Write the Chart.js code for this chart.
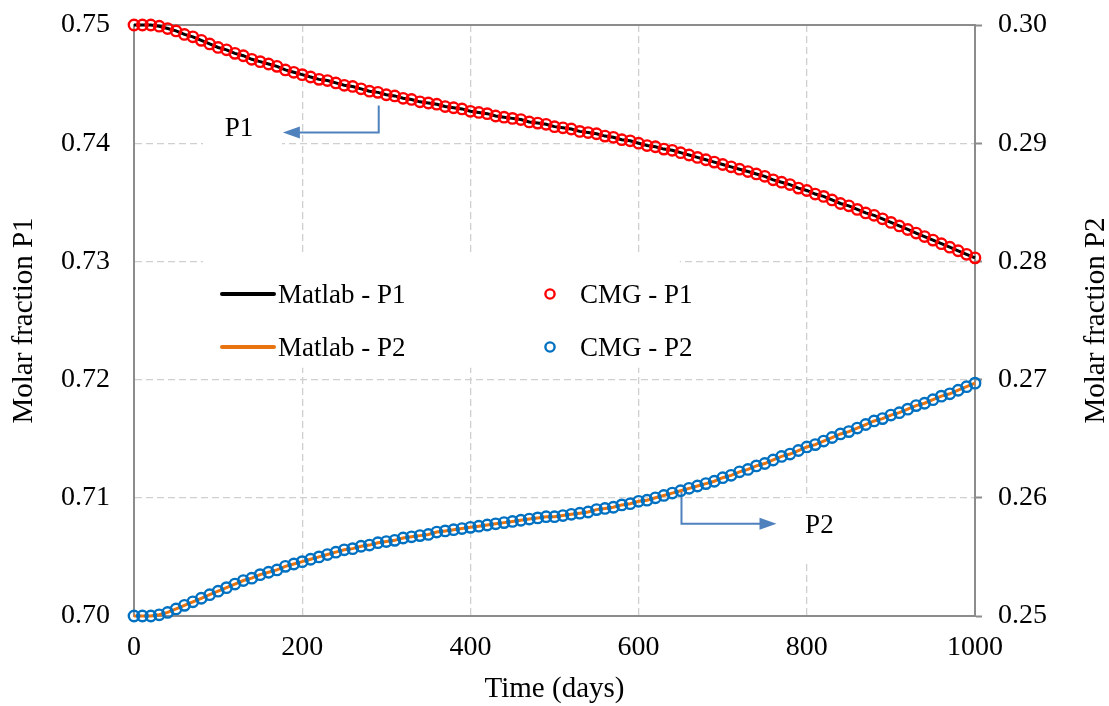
<!DOCTYPE html>
<html>
<head>
<meta charset="utf-8">
<script src="https://cdn.jsdelivr.net/npm/chart.js@4.4.1/dist/chart.umd.min.js"></script>
<style>
  html, body { margin: 0; padding: 0; background: #fff; }
</style>
</head>
<body>
<canvas id="chart" width="1109" height="706"></canvas>
<script>
// Molar fraction of P1 / P2 over time, Matlab solution vs. CMG run
const days = [
  0, 10, 20, 30, 40, 50, 60, 70, 80, 90,
  100, 110, 120, 130, 140, 150, 160, 170, 180, 190,
  200, 210, 220, 230, 240, 250, 260, 270, 280, 290,
  300, 310, 320, 330, 340, 350, 360, 370, 380, 390,
  400, 410, 420, 430, 440, 450, 460, 470, 480, 490,
  500, 510, 520, 530, 540, 550, 560, 570, 580, 590,
  600, 610, 620, 630, 640, 650, 660, 670, 680, 690,
  700, 710, 720, 730, 740, 750, 760, 770, 780, 790,
  800, 810, 820, 830, 840, 850, 860, 870, 880, 890,
  900, 910, 920, 930, 940, 950, 960, 970, 980, 990,
  1000
];

const p1 = [
  0.7500, 0.7500, 0.7500, 0.7499, 0.7497, 0.7495, 0.7492, 0.7490, 0.7487, 0.7484,
  0.7481, 0.7479, 0.7476, 0.7474, 0.7471, 0.7469, 0.7467, 0.7465, 0.7462, 0.7460,
  0.7458, 0.7456, 0.7454, 0.7453, 0.7451, 0.7449, 0.7448, 0.7446, 0.7444, 0.7443,
  0.7441, 0.7440, 0.7438, 0.7437, 0.7435, 0.7434, 0.7433, 0.7431, 0.7430, 0.7429,
  0.7427, 0.7426, 0.7425, 0.7423, 0.7422, 0.7421, 0.7420, 0.7418, 0.7417, 0.7416,
  0.7414, 0.7413, 0.7412, 0.7410, 0.7409, 0.7408, 0.7406, 0.7405, 0.7403, 0.7402,
  0.7400, 0.7398, 0.7397, 0.7395, 0.7394, 0.7392, 0.7390, 0.7388, 0.7386, 0.7384,
  0.7382, 0.7380, 0.7378, 0.7376, 0.7374, 0.7372, 0.7369, 0.7367, 0.7365, 0.7362,
  0.7360, 0.7357, 0.7355, 0.7352, 0.7349, 0.7347, 0.7344, 0.7341, 0.7339, 0.7336,
  0.7333, 0.7330, 0.7327, 0.7324, 0.7321, 0.7318, 0.7315, 0.7312, 0.7309, 0.7306,
  0.7303
];

const p2 = [
  0.2500, 0.2500, 0.2500, 0.2501, 0.2503, 0.2506, 0.2509, 0.2512, 0.2515, 0.2518,
  0.2521, 0.2524, 0.2527, 0.2530, 0.2532, 0.2535, 0.2537, 0.2539, 0.2542, 0.2544,
  0.2546, 0.2548, 0.2550, 0.2552, 0.2554, 0.2556, 0.2557, 0.2559, 0.2560, 0.2562,
  0.2563, 0.2564, 0.2566, 0.2567, 0.2568, 0.2569, 0.2571, 0.2572, 0.2573, 0.2574,
  0.2575, 0.2576, 0.2577, 0.2578, 0.2579, 0.2580, 0.2581, 0.2582, 0.2583, 0.2584,
  0.2584, 0.2585, 0.2586, 0.2587, 0.2588, 0.2590, 0.2591, 0.2592, 0.2594, 0.2595,
  0.2597, 0.2598, 0.2600, 0.2602, 0.2604, 0.2606, 0.2608, 0.2610, 0.2612, 0.2614,
  0.2617, 0.2619, 0.2622, 0.2624, 0.2627, 0.2629, 0.2632, 0.2635, 0.2637, 0.2640,
  0.2643, 0.2645, 0.2648, 0.2651, 0.2654, 0.2656, 0.2659, 0.2662, 0.2665, 0.2667,
  0.2670, 0.2672, 0.2675, 0.2678, 0.2680, 0.2683, 0.2686, 0.2688, 0.2691, 0.2694,
  0.2697
];

const xTicks = [0, 200, 400, 600, 800, 1000];
const leftTicks = [0.70, 0.71, 0.72, 0.73, 0.74, 0.75];
const rightTicks = [0.25, 0.26, 0.27, 0.28, 0.29, 0.30];

const SERIF = '"Liberation Serif", "Times New Roman", serif';
const FRAME = "#8c8c8c";
const GRID = "#cfcfcf";
const ARROW = "#4f81bd";
const RIGHT_TITLE = "Molar fraction P2";
const MARK_R = 5.2;

// callouts pointing each curve to its axis (data units)
const callouts = [
  { text: "P1", axis: "y", from: [291, 0.7432], elbow: [291, 0.7409], tip: [177, 0.7409], label: [108, 0.74063] },
  { text: "P2", axis: "y2", from: [651, 0.2605], elbow: [651, 0.2578], tip: [764, 0.2578], label: [798, 0.25702] },
];

// white patches that knock the grid out behind legend and callout labels
const patches = [
  { axis: "y", x0: 82, x1: 176, y0: 0.7432, y1: 0.7386 },
  { axis: "y2", x0: 774, x1: 866, y0: 0.2600, y1: 0.2547 },
  { axis: "y", x0: 82, x1: 649, y0: 0.7306, y1: 0.7210 },
];

const pts = (vals) => vals.map((v, i) => ({ x: days[i], y: v }));

function lineSet(label, vals, color, axis) {
  return {
    label, data: pts(vals), yAxisID: axis, borderColor: color, backgroundColor: color,
    borderWidth: 3, pointRadius: 0, tension: 0, order: 2, clip: false,
  };
}

function markerSet(label, vals, color, axis) {
  return {
    label, data: pts(vals), yAxisID: axis, showLine: false, borderColor: color,
    backgroundColor: "rgba(0,0,0,0)", pointStyle: "circle", pointRadius: MARK_R,
    pointBorderWidth: 2.4, order: 1, clip: false,
  };
}

// keep tick-label overflow from pushing the plot area down
function fixWidth(w) {
  return (s) => { s.width = w; s.paddingTop = 0; s.paddingBottom = 0; };
}

const overlay = {
  id: "overlay",
  beforeDatasetsDraw(chart) {
    const { ctx, chartArea: a, scales } = chart;
    const X = scales.x;
    ctx.save();

    // top edge of the plot frame
    ctx.strokeStyle = FRAME;
    ctx.lineWidth = 2;
    ctx.beginPath();
    ctx.moveTo(a.left, a.top);
    ctx.lineTo(a.right, a.top);
    ctx.stroke();

    ctx.fillStyle = "#fff";
    patches.forEach((p) => {
      const Y = scales[p.axis];
      const l = X.getPixelForValue(p.x0), r = X.getPixelForValue(p.x1);
      const t = Y.getPixelForValue(p.y0), b = Y.getPixelForValue(p.y1);
      ctx.fillRect(l, t, r - l, b - t);
    });

    // callout arrows
    callouts.forEach((c) => {
      const Y = scales[c.axis];
      const fx = X.getPixelForValue(c.from[0]), fy = Y.getPixelForValue(c.from[1]);
      const ex = X.getPixelForValue(c.elbow[0]), ey = Y.getPixelForValue(c.elbow[1]);
      const tx = X.getPixelForValue(c.tip[0]), ty = Y.getPixelForValue(c.tip[1]);
      const dir = Math.sign(tx - ex);
      ctx.strokeStyle = ARROW;
      ctx.fillStyle = ARROW;
      ctx.lineWidth = 2;
      ctx.beginPath();
      ctx.moveTo(fx, fy);
      ctx.lineTo(ex, ey);
      ctx.lineTo(tx - dir * 14, ty);
      ctx.stroke();
      ctx.beginPath();
      ctx.moveTo(tx, ty);
      ctx.lineTo(tx - dir * 17, ty - 6);
      ctx.lineTo(tx - dir * 17, ty + 6);
      ctx.closePath();
      ctx.fill();

      ctx.fillStyle = "#000";
      ctx.font = "27px " + SERIF;
      ctx.textBaseline = "alphabetic";
      ctx.textAlign = "left";
      ctx.fillText(c.text, X.getPixelForValue(c.label[0]), Y.getPixelForValue(c.label[1]));
    });

    // legend: Matlab lines on the left, CMG markers on the right
    const ds = chart.data.datasets;
    const lines = ds.filter((d) => d.showLine !== false);
    const marks = ds.filter((d) => d.showLine === false);
    const rowY = [a.top + 278, a.top + 331];
    ctx.font = "27px " + SERIF;
    ctx.textBaseline = "alphabetic";
    ctx.textAlign = "left";
    lines.forEach((d, i) => {
      const cy = rowY[i] - 9;
      ctx.strokeStyle = d.borderColor;
      ctx.lineWidth = 4;
      ctx.lineCap = "round";
      ctx.beginPath();
      ctx.moveTo(a.left + 88, cy);
      ctx.lineTo(a.left + 140, cy);
      ctx.stroke();
      ctx.fillStyle = "#000";
      ctx.fillText(d.label, a.left + 144, rowY[i]);
    });
    marks.forEach((d, i) => {
      const cy = rowY[i] - 9;
      ctx.strokeStyle = d.borderColor;
      ctx.lineWidth = 2.4;
      ctx.beginPath();
      ctx.arc(a.left + 416, cy, MARK_R - 0.6, 0, Math.PI * 2);
      ctx.stroke();
      ctx.fillStyle = "#000";
      ctx.fillText(d.label, a.left + 446, rowY[i]);
    });
    ctx.restore();
  },
  afterDraw(chart) {
    // right-hand title reads bottom-to-top like the left one
    const { ctx, chartArea: a } = chart;
    ctx.save();
    ctx.translate(chart.width - 13, (a.top + a.bottom) / 2);
    ctx.rotate(-Math.PI / 2);
    ctx.font = "29px " + SERIF;
    ctx.fillStyle = "#000";
    ctx.textAlign = "center";
    ctx.textBaseline = "middle";
    ctx.fillText(RIGHT_TITLE, 0, 0);
    ctx.restore();
  },
};

const tickFont = { family: SERIF, size: 28 };
const titleFont = { family: SERIF, size: 29, lineHeight: 1 };

new Chart(document.getElementById("chart"), {
  type: "line",
  data: {
    datasets: [
      lineSet("Matlab - P1", p1, "#000000", "y"),
      lineSet("Matlab - P2", p2, "#e8730f", "y2"),
      markerSet("CMG - P1", p1, "#ff0000", "y"),
      markerSet("CMG - P2", p2, "#0070c0", "y2"),
    ],
  },
  options: {
    responsive: false,
    animation: false,
    layout: { padding: { top: 25, left: 0, right: 0, bottom: 0 } },
    plugins: { legend: { display: false }, tooltip: { enabled: false } },
    scales: {
      x: {
        type: "linear", min: 0, max: 1000,
        afterBuildTicks: (s) => { s.ticks = xTicks.map((v) => ({ value: v })); },
        afterFit: (s) => { s.height = 90; },
        ticks: { font: tickFont, color: "#000", padding: 15, maxRotation: 0, callback: (v) => String(v) },
        grid: { color: GRID, lineWidth: 1.3, drawTicks: false },
        border: { color: FRAME, width: 2, dash: [7, 4] },
        title: { display: true, text: "Time (days)", font: titleFont, color: "#000", padding: { top: 0, bottom: 2 } },
      },
      y: {
        position: "left", min: 0.70, max: 0.75,
        afterBuildTicks: (s) => { s.ticks = leftTicks.map((v) => ({ value: v })); },
        afterFit: fixWidth(134),
        ticks: { font: tickFont, color: "#000", padding: 24, callback: (v) => v.toFixed(2) },
        grid: { color: GRID, lineWidth: 1.3, drawTicks: false },
        border: { color: FRAME, width: 2, dash: [7, 4] },
        title: { display: true, text: "Molar fraction P1", font: titleFont, color: "#000", padding: { top: 10, bottom: 0 } },
      },
      y2: {
        position: "right", min: 0.25, max: 0.30,
        afterBuildTicks: (s) => { s.ticks = rightTicks.map((v) => ({ value: v })); },
        afterFit: fixWidth(134),
        ticks: { font: tickFont, color: "#000", padding: 16, callback: (v) => v.toFixed(2) },
        grid: { drawOnChartArea: false, drawTicks: true, tickLength: 7, tickColor: FRAME, tickWidth: 2 },
        border: { color: FRAME, width: 2 },
      },
    },
  },
  plugins: [overlay],
});
</script>
</body>
</html>
